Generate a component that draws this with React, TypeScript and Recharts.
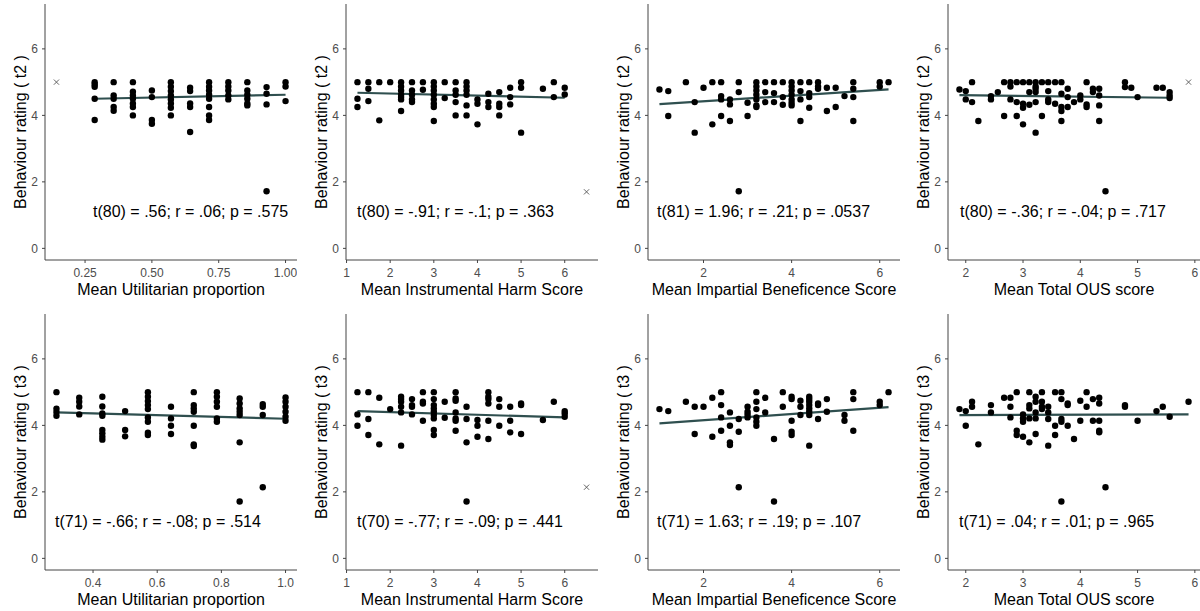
import React from "react";
import { ScatterChart, Scatter, XAxis, YAxis, ReferenceLine } from "recharts";

type Col = [number, number[]];
type Pair = [number, number];

// behaviour ratings grouped by predictor value
const utilT2: Col[] = [
  [0.286, [5.0, 4.93, 4.86, 4.5, 3.86]],
  [0.357, [5.0, 4.6, 4.5, 4.25, 4.14]],
  [0.429, [5.0, 4.71, 4.6, 4.5, 4.36, 4.25, 4.0]],
  [0.5, [4.75, 4.55, 3.86, 3.75]],
  [0.571, [5.0, 4.86, 4.73, 4.6, 4.48, 4.36, 4.23, 4.0]],
  [0.643, [4.83, 4.73, 4.36, 4.25, 3.5]],
  [0.714, [5.0, 4.86, 4.75, 4.62, 4.5, 4.25, 4.0, 3.86]],
  [0.786, [5.0, 4.87, 4.75, 4.6, 4.48]],
  [0.857, [5.0, 4.75, 4.62, 4.5, 4.36, 4.3]],
  [0.929, [4.85, 4.65, 4.33, 1.72]],
  [1.0, [5.0, 4.87, 4.43]],
];

const harmT2: Col[] = [
  [1.25, [5.0, 4.5, 4.25]],
  [1.5, [5.0, 4.8, 4.43]],
  [1.75, [5.0, 3.85]],
  [2.0, [5.0]],
  [2.25, [5.0, 4.87, 4.75, 4.62, 4.55, 4.48, 4.13]],
  [2.5, [5.0, 4.75, 4.62, 4.48, 4.4]],
  [2.75, [5.0, 4.77]],
  [3.0, [5.0, 4.87, 4.75, 4.62, 4.48, 4.35, 4.25, 3.83]],
  [3.25, [5.0, 4.52]],
  [3.5, [5.0, 4.75, 4.62, 4.4, 4.0]],
  [3.75, [5.0, 4.87, 4.75, 4.62, 4.3, 4.0]],
  [4.0, [4.48, 4.35, 3.73]],
  [4.25, [4.65, 4.4, 4.25]],
  [4.5, [4.7, 4.35, 4.25, 4.0]],
  [4.75, [4.83, 4.55, 4.33]],
  [5.0, [5.0, 4.83, 3.48]],
  [5.5, [4.8]],
  [5.75, [5.0, 4.55]],
  [6.0, [4.83, 4.63]],
];

const benefT2: Col[] = [
  [1.0, [4.78]],
  [1.2, [4.73, 3.98]],
  [1.6, [5.0]],
  [1.8, [4.4, 3.48]],
  [2.0, [4.83]],
  [2.2, [5.0, 3.73]],
  [2.4, [5.0, 4.58, 4.48, 3.98]],
  [2.6, [4.48, 4.33, 3.83]],
  [2.8, [5.0, 4.7, 1.72]],
  [3.0, [4.38, 3.98]],
  [3.2, [5.0, 4.87, 4.75, 4.62, 4.48, 4.3, 4.25]],
  [3.4, [5.0, 4.7, 4.4]],
  [3.6, [5.0, 4.67, 4.4]],
  [3.8, [5.0, 4.55, 4.32]],
  [4.0, [5.0, 4.87, 4.75, 4.62, 4.48, 4.38, 4.3]],
  [4.2, [5.0, 4.73, 4.48, 3.83]],
  [4.4, [5.0, 4.67, 4.55, 4.23]],
  [4.6, [5.0, 4.87, 4.8]],
  [4.8, [4.83, 4.13]],
  [5.0, [4.83, 4.25]],
  [5.2, [4.58]],
  [5.4, [5.0, 4.8, 4.55, 3.83]],
  [6.0, [5.0, 4.87]],
  [6.2, [5.0]],
];

const ousT2: Col[] = [
  [1.89, [4.78]],
  [2.0, [4.73, 4.48]],
  [2.11, [5.0, 4.4]],
  [2.22, [3.83]],
  [2.44, [4.58, 4.48]],
  [2.56, [4.7]],
  [2.67, [5.0, 3.98]],
  [2.78, [5.0, 4.87, 4.48]],
  [2.89, [5.0, 4.4, 3.98]],
  [3.0, [5.0, 4.35, 4.23, 3.73]],
  [3.11, [5.0, 4.7, 4.32]],
  [3.22, [5.0, 4.87, 4.8, 4.7, 4.4, 3.48]],
  [3.33, [5.0, 3.98]],
  [3.44, [5.0, 4.73, 4.48, 4.4]],
  [3.56, [5.0, 4.35]],
  [3.67, [5.0, 4.65, 4.25, 4.13, 3.83]],
  [3.78, [4.8, 4.55, 4.25]],
  [3.89, [4.4]],
  [4.0, [4.6, 4.48]],
  [4.11, [5.0, 4.33, 4.25]],
  [4.22, [4.8, 4.7]],
  [4.33, [4.8, 4.6, 4.3, 3.83]],
  [4.44, [1.72]],
  [4.78, [5.0, 4.85]],
  [4.89, [4.83]],
  [5.0, [4.55]],
  [5.33, [4.83]],
  [5.44, [4.83]],
  [5.56, [4.7, 4.6, 4.52]],
];

const utilT3: Col[] = [
  [0.286, [5.0, 4.5, 4.4, 4.29]],
  [0.357, [4.83, 4.71, 4.57, 4.33]],
  [0.429, [4.86, 4.57, 4.36, 4.29, 3.86, 3.76, 3.66, 3.57]],
  [0.5, [4.43, 3.86, 3.67]],
  [0.571, [5.0, 4.86, 4.73, 4.61, 4.49, 4.24, 4.11, 3.78, 3.71]],
  [0.643, [4.56, 4.21, 3.99, 3.74]],
  [0.714, [5.0, 4.61, 4.51, 4.41, 3.99, 3.43, 3.38]],
  [0.786, [5.0, 4.86, 4.71, 4.56, 4.21, 4.11]],
  [0.857, [4.81, 4.66, 4.51, 4.41, 4.31, 3.49, 1.71]],
  [0.929, [4.64, 4.56, 4.31, 2.14]],
  [1.0, [4.84, 4.71, 4.56, 4.41, 4.26, 4.14]],
];

const harmT3: Col[] = [
  [1.25, [5.0, 4.33, 3.99]],
  [1.5, [5.0, 4.19, 3.71]],
  [1.75, [4.83, 3.43]],
  [2.0, [4.49]],
  [2.25, [4.86, 4.79, 4.71, 4.56, 4.39, 3.39]],
  [2.5, [4.79, 4.61, 4.56, 4.33]],
  [2.75, [5.0, 4.71, 4.66, 4.14]],
  [3.0, [5.0, 4.79, 4.61, 4.51, 4.41, 4.31, 4.21, 3.86, 3.71]],
  [3.25, [4.71, 4.23]],
  [3.5, [5.0, 4.81, 4.74, 4.39, 4.21, 4.14, 3.84]],
  [3.75, [4.56, 4.19, 3.49, 1.71]],
  [4.0, [4.16, 3.99, 3.66]],
  [4.25, [5.0, 4.86, 4.79, 4.66, 4.14, 3.59]],
  [4.5, [4.79, 4.56, 3.99]],
  [4.75, [4.56, 4.14, 3.79]],
  [5.0, [4.66, 4.61, 3.74]],
  [5.5, [4.16]],
  [5.75, [4.71]],
  [6.0, [4.43, 4.36, 4.26]],
];

const benefT3: Col[] = [
  [1.0, [4.49]],
  [1.2, [4.43]],
  [1.6, [4.71]],
  [1.8, [4.56, 3.74]],
  [2.0, [4.56]],
  [2.2, [4.83, 3.66]],
  [2.4, [5.0, 4.61, 4.24, 3.84]],
  [2.6, [4.39, 3.99, 3.49, 3.41]],
  [2.8, [4.19, 3.81, 2.14]],
  [3.0, [4.56, 4.41, 4.33, 4.24]],
  [3.2, [5.0, 4.71, 4.49, 4.24, 4.11, 3.99]],
  [3.4, [4.83, 4.39]],
  [3.6, [3.59, 1.71]],
  [3.8, [5.0, 4.56]],
  [4.0, [4.86, 4.79, 4.14, 3.81, 3.71]],
  [4.2, [4.74, 4.56, 4.31]],
  [4.4, [4.86, 4.79, 4.71, 4.61, 4.51, 4.41, 4.31, 3.39]],
  [4.6, [4.66, 4.61, 4.19]],
  [4.8, [4.79, 4.41]],
  [5.2, [4.31, 4.14]],
  [5.4, [5.0, 4.79, 3.84]],
  [6.0, [4.71, 4.61]],
  [6.2, [5.0]],
];

const ousT3: Col[] = [
  [1.89, [4.49]],
  [2.0, [4.43, 3.99]],
  [2.11, [4.71, 4.56]],
  [2.22, [3.43]],
  [2.44, [4.61, 4.39]],
  [2.67, [4.83]],
  [2.78, [4.83, 4.56, 4.24]],
  [2.89, [5.0, 3.84, 3.71]],
  [3.0, [4.33, 4.21, 4.11, 3.66]],
  [3.11, [5.0, 4.61, 4.51, 4.21, 3.49]],
  [3.22, [4.86, 4.71, 4.39, 4.21, 3.74]],
  [3.33, [5.0, 4.71, 4.56, 4.49]],
  [3.44, [4.56, 4.39, 4.19, 3.39]],
  [3.56, [5.0, 3.99, 3.71]],
  [3.67, [5.0, 4.79, 4.19, 4.11, 1.71]],
  [3.78, [4.66, 4.61, 3.99]],
  [3.89, [3.59]],
  [4.0, [4.74, 4.14]],
  [4.11, [5.0, 4.56]],
  [4.22, [4.79, 4.14]],
  [4.33, [4.83, 4.66, 4.14, 3.84, 3.79]],
  [4.44, [2.14]],
  [4.78, [4.61, 4.56]],
  [5.0, [4.14]],
  [5.33, [4.43]],
  [5.44, [4.56]],
  [5.56, [4.26]],
  [5.89, [4.71]],
];

// excluded cases, drawn as crosses
const utilT2Out: Pair[] = [[0.143, 5.0]];
const harmT2Out: Pair[] = [[6.5, 1.7]];
const ousT2Out: Pair[] = [[5.89, 5.0]];
const harmT3Out: Pair[] = [[6.5, 2.14]];

// fitted lines (start, end)
const utilT2Fit: Pair[] = [[0.286, 4.5], [1.0, 4.62]];
const harmT2Fit: Pair[] = [[1.25, 4.68], [6.0, 4.53]];
const benefT2Fit: Pair[] = [[1.0, 4.34], [6.2, 4.78]];
const ousT2Fit: Pair[] = [[1.89, 4.61], [5.56, 4.53]];
const utilT3Fit: Pair[] = [[0.286, 4.39], [1.0, 4.2]];
const harmT3Fit: Pair[] = [[1.25, 4.43], [6.0, 4.24]];
const benefT3Fit: Pair[] = [[1.0, 4.06], [6.2, 4.55]];
const ousT3Fit: Pair[] = [[1.89, 4.31], [5.89, 4.33]];

const utilTicksT2 = [0.25, 0.5, 0.75, 1.0];
const utilTicksT3 = [0.4, 0.6, 0.8, 1.0];
const harmTicks = [1, 2, 3, 4, 5, 6];
const benefTicks = [2, 4, 6];
const ousTicks = [2, 3, 4, 5, 6];
const yTicks = [0, 2, 4, 6];

const xTitles = [
  "Mean Utilitarian proportion",
  "Mean Instrumental Harm Score",
  "Mean Impartial Beneficence Score",
  "Mean Total OUS score",
];
const yTitles = ["Behaviour rating ( t2 )", "Behaviour rating ( t3 )"];
const notesT2 = [
  "t(80) = .56; r = .06; p = .575",
  "t(80) = -.91; r = -.1; p = .363",
  "t(81) = 1.96; r = .21; p = .0537",
  "t(80) = -.36; r = -.04; p = .717",
];
const notesT3 = [
  "t(71) = -.66; r = -.08; p = .514",
  "t(70) = -.77; r = -.09; p = .441",
  "t(71) = 1.63; r = .19; p = .107",
  "t(71) = .04; r = .01; p = .965",
];

const FONT = "'Liberation Sans', Arial, Helvetica, sans-serif";
const W = 252;
const H = 256;
const AX = 40;
const lefts = [45, 346, 647.5, 948];
const tops = [4, 314];

const Dot = (p: any) => <circle cx={p.cx} cy={p.cy} r={3.2} fill="#000" />;
const Cross = (p: any) => (
  <g stroke="#555" strokeWidth={0.9}>
    <line x1={p.cx - 2.6} y1={p.cy - 2.6} x2={p.cx + 2.6} y2={p.cy + 2.6} />
    <line x1={p.cx - 2.6} y1={p.cy + 2.6} x2={p.cx + 2.6} y2={p.cy - 2.6} />
  </g>
);

interface PanelProps {
  cols: Col[];
  out?: Pair[];
  fit: Pair[];
  ticks: number[];
  fmt: (v: number) => string;
  left: number;
  top: number;
  xTitle: string;
  yTitle: string;
  note: string;
  noteDx: number;
}

function Panel({ cols, out = [], fit, ticks, fmt, left, top, xTitle, yTitle, note, noteDx }: PanelProps) {
  const pts = cols.flatMap(([x, ys]) => ys.map((y) => ({ x, y })));
  const outPts = out.map(([x, y]) => ({ x, y }));
  const xs = [...pts, ...outPts].map((p) => p.x);
  const lo = Math.min(...xs);
  const hi = Math.max(...xs);
  const pad = (hi - lo) * 0.05;
  const tickStyle = { fill: "#4d4d4d", fontSize: 12, fontFamily: FONT };

  return (
    <div style={{ position: "absolute", left: left - AX, top, width: W + AX, height: H + 46 }}>
      <ScatterChart width={W + AX} height={H + 30} margin={{ top: 0, right: 0, bottom: 0, left: 0 }}>
        <XAxis
          type="number"
          dataKey="x"
          domain={[lo - pad, hi + pad]}
          allowDataOverflow
          ticks={ticks}
          interval={0}
          tickFormatter={fmt}
          height={30}
          tickSize={3}
          tickMargin={5}
          stroke="#444"
          tick={tickStyle}
        />
        <YAxis
          type="number"
          dataKey="y"
          domain={[-0.35, 7.35]}
          allowDataOverflow
          ticks={yTicks}
          interval={0}
          width={AX}
          tickSize={3}
          tickMargin={4}
          stroke="#444"
          tick={tickStyle}
        />
        <Scatter data={pts} shape={Dot} isAnimationActive={false} />
        {outPts.length > 0 && <Scatter data={outPts} shape={Cross} isAnimationActive={false} />}
        <ReferenceLine
          segment={[
            { x: fit[0][0], y: fit[0][1] },
            { x: fit[1][0], y: fit[1][1] },
          ]}
          stroke="#2f4f4f"
          strokeWidth={2.2}
        />
      </ScatterChart>
      <svg
        width={W + AX}
        height={H + 46}
        style={{ position: "absolute", left: 0, top: 0, pointerEvents: "none" }}
        fontFamily={FONT}
        fontSize={16}
      >
        <text
          x={AX - 19}
          y={H / 2}
          textAnchor="middle"
          transform={`rotate(-90 ${AX - 19} ${H / 2})`}
          fill="#000"
        >
          {yTitle}
        </text>
        <text x={AX + W / 2} y={H + 35} textAnchor="middle" fill="#000">
          {xTitle}
        </text>
        <text x={AX + noteDx} y={213} fill="#000">
          {note}
        </text>
      </svg>
    </div>
  );
}

const num = (v: number) => String(v);

export default function App() {
  return (
    <div
      style={{
        position: "absolute",
        left: 0,
        top: 0,
        width: 1200,
        height: 611,
        background: "#fff",
        fontFamily: FONT,
        overflow: "hidden",
      }}
    >
      <Panel cols={utilT2} out={utilT2Out} fit={utilT2Fit} ticks={utilTicksT2} fmt={(v) => v.toFixed(2)}
        left={lefts[0]} top={tops[0]} xTitle={xTitles[0]} yTitle={yTitles[0]} note={notesT2[0]} noteDx={48} />
      <Panel cols={harmT2} out={harmT2Out} fit={harmT2Fit} ticks={harmTicks} fmt={num}
        left={lefts[1]} top={tops[0]} xTitle={xTitles[1]} yTitle={yTitles[0]} note={notesT2[1]} noteDx={11} />
      <Panel cols={benefT2} fit={benefT2Fit} ticks={benefTicks} fmt={num}
        left={lefts[2]} top={tops[0]} xTitle={xTitles[2]} yTitle={yTitles[0]} note={notesT2[2]} noteDx={9} />
      <Panel cols={ousT2} out={ousT2Out} fit={ousT2Fit} ticks={ousTicks} fmt={num}
        left={lefts[3]} top={tops[0]} xTitle={xTitles[3]} yTitle={yTitles[0]} note={notesT2[3]} noteDx={12} />

      <Panel cols={utilT3} fit={utilT3Fit} ticks={utilTicksT3} fmt={(v) => v.toFixed(1)}
        left={lefts[0]} top={tops[1]} xTitle={xTitles[0]} yTitle={yTitles[1]} note={notesT3[0]} noteDx={10} />
      <Panel cols={harmT3} out={harmT3Out} fit={harmT3Fit} ticks={harmTicks} fmt={num}
        left={lefts[1]} top={tops[1]} xTitle={xTitles[1]} yTitle={yTitles[1]} note={notesT3[1]} noteDx={11} />
      <Panel cols={benefT3} fit={benefT3Fit} ticks={benefTicks} fmt={num}
        left={lefts[2]} top={tops[1]} xTitle={xTitles[2]} yTitle={yTitles[1]} note={notesT3[2]} noteDx={9} />
      <Panel cols={ousT3} fit={ousT3Fit} ticks={ousTicks} fmt={num}
        left={lefts[3]} top={tops[1]} xTitle={xTitles[3]} yTitle={yTitles[1]} note={notesT3[3]} noteDx={11} />
    </div>
  );
}
